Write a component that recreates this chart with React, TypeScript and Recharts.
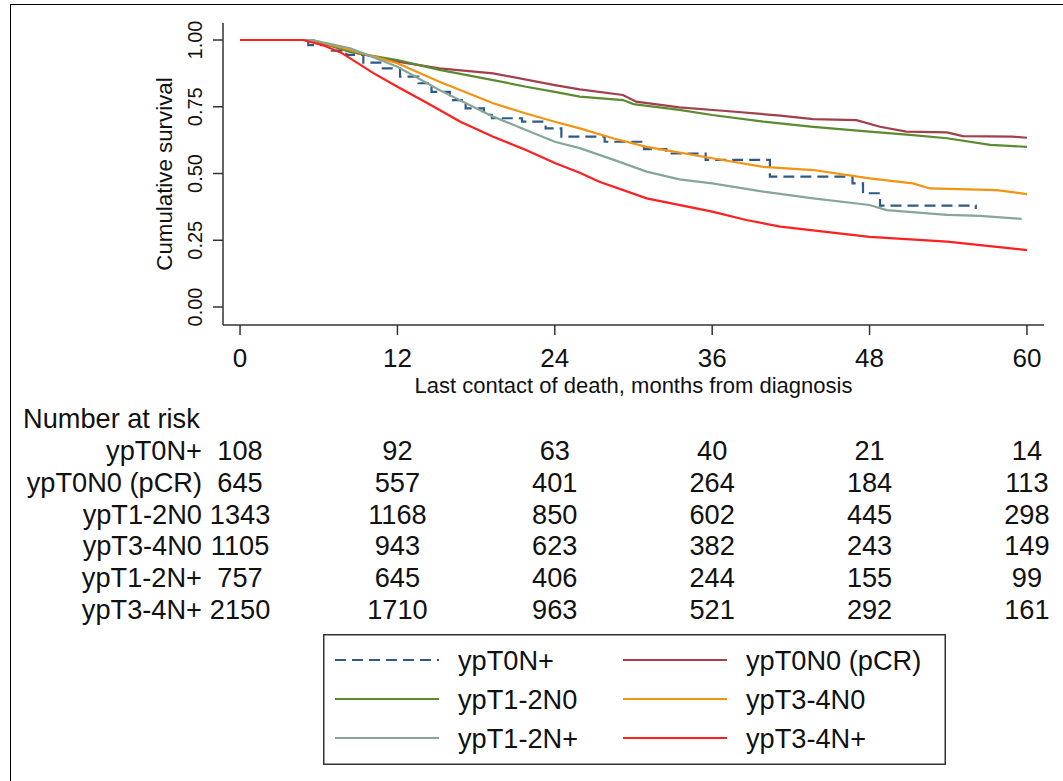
import React from 'react';
import { LineChart, Line, XAxis, YAxis, Legend } from 'recharts';

const FONT = '"Liberation Sans", Arial, sans-serif';

const monthTicks = [0, 12, 24, 36, 48, 60];
const survTicks = [0, 0.25, 0.5, 0.75, 1];

// ypT0N+ (few patients, visible steps)
const t0npMonths = [0, 5.2, 7, 8.1, 9.4, 10.8, 12.2, 13.6, 14.6, 16, 17.2, 18.6, 19.2, 21.5, 23.3, 24.5, 27.8, 30.8, 32.5, 35.5, 40.4, 46.7, 47.5, 48.8, 56.1];
const t0npSurv = [1, 0.981, 0.96, 0.944, 0.915, 0.894, 0.863, 0.838, 0.806, 0.775, 0.744, 0.72, 0.707, 0.694, 0.669, 0.638, 0.619, 0.591, 0.575, 0.551, 0.488, 0.463, 0.426, 0.38, 0.367];

// ypT0N0 (pCR)
const pcrMonths = [0, 5.5, 8.4, 12, 15.2, 19.3, 24, 25.9, 29.2, 30.2, 33.5, 36.8, 41.2, 43.7, 47, 48.8, 50.8, 53.9, 55.1, 58.9, 60];
const pcrSurv = [1, 1, 0.956, 0.919, 0.894, 0.875, 0.831, 0.815, 0.794, 0.769, 0.748, 0.735, 0.717, 0.704, 0.7, 0.675, 0.657, 0.654, 0.64, 0.638, 0.634];

// ypT1-2N0
const t12n0Months = [0, 5.5, 8.4, 12, 15.2, 19.3, 21.8, 24, 25.9, 29.2, 30, 33.5, 36, 39.9, 43.7, 48, 51.3, 53.9, 57.2, 60];
const t12n0Surv = [1, 1, 0.955, 0.925, 0.888, 0.85, 0.825, 0.806, 0.788, 0.775, 0.76, 0.738, 0.719, 0.694, 0.675, 0.657, 0.644, 0.632, 0.607, 0.6];

// ypT3-4N0
const t34n0Months = [0, 5.5, 8.4, 12, 15.2, 19.3, 21.8, 24, 25.9, 28.5, 31, 36, 39.9, 43.7, 48, 51.3, 52.6, 57.7, 60];
const t34n0Surv = [1, 1, 0.963, 0.913, 0.844, 0.763, 0.725, 0.694, 0.669, 0.631, 0.6, 0.557, 0.525, 0.513, 0.482, 0.463, 0.444, 0.438, 0.423];

// ypT1-2N+
const t12npMonths = [0, 5.5, 8.4, 12, 15.2, 19.3, 21.8, 24, 25.9, 28.5, 31, 33.5, 36, 39.9, 43.7, 48, 49.3, 53.9, 56.4, 59.6];
const t12npSurv = [1, 1, 0.969, 0.9, 0.813, 0.713, 0.663, 0.619, 0.595, 0.551, 0.507, 0.478, 0.463, 0.432, 0.407, 0.382, 0.363, 0.345, 0.341, 0.33];

// ypT3-4N+
const t34npMonths = [0, 4.8, 6.3, 7.8, 10.2, 12, 14.3, 16.8, 19.3, 21.8, 24, 25.9, 27.4, 31, 36, 38.6, 41.2, 48, 53.9, 60];
const t34npSurv = [1, 1, 0.981, 0.95, 0.875, 0.825, 0.763, 0.694, 0.638, 0.588, 0.539, 0.503, 0.469, 0.407, 0.357, 0.326, 0.301, 0.263, 0.245, 0.213];

// number at risk at 0, 12, 24, 36, 48, 60 months
const riskT0Np = [108, 92, 63, 40, 21, 14];
const riskPcr = [645, 557, 401, 264, 184, 113];
const riskT12N0 = [1343, 1168, 850, 602, 445, 298];
const riskT34N0 = [1105, 943, 623, 382, 243, 149];
const riskT12Np = [757, 645, 406, 244, 155, 99];
const riskT34Np = [2150, 1710, 963, 521, 292, 161];

const toPoints = (months: number[], surv: number[]) =>
  months.map((m, i) => ({ m, s: surv[i] }));

const series = [
  { name: 'ypT0N+', data: toPoints(t0npMonths, t0npSurv), risk: riskT0Np, color: '#2f5a88', dash: '11 6', step: true },
  { name: 'ypT0N0 (pCR)', data: toPoints(pcrMonths, pcrSurv), risk: riskPcr, color: '#a13f4b', dash: undefined, step: false },
  { name: 'ypT1-2N0', data: toPoints(t12n0Months, t12n0Surv), risk: riskT12N0, color: '#5b8b2f', dash: undefined, step: false },
  { name: 'ypT3-4N0', data: toPoints(t34n0Months, t34n0Surv), risk: riskT34N0, color: '#f29412', dash: undefined, step: false },
  { name: 'ypT1-2N+', data: toPoints(t12npMonths, t12npSurv), risk: riskT12Np, color: '#86a697', dash: undefined, step: false },
  { name: 'ypT3-4N+', data: toPoints(t34npMonths, t34npSurv), risk: riskT34Np, color: '#ff1f1f', dash: undefined, step: false },
];

const MAIN_H = 76;
const NAR_H = 34;
const ROW_H = 31.7;
const TICK_SIZE = 10;
const TABLE_FS = 27.2;
const AXIS_STROKE = { stroke: '#333', strokeWidth: 1.5 };

// month label plus the at-risk column drawn under it
const XTick = ({ x, y, payload }: any) => {
  const col = monthTicks.indexOf(payload.value);
  const rowsTop = y - TICK_SIZE - 2 + MAIN_H + NAR_H;
  return (
    <g>
      <text x={x} y={y + 21} textAnchor="middle" dominantBaseline="central" fontSize={26} fill="#111" fontFamily={FONT}>
        {payload.value}
      </text>
      {series.map((s, r) => (
        <text key={s.name} x={x} y={rowsTop + ROW_H * (r + 0.5)} textAnchor="middle" dominantBaseline="central" fontSize={TABLE_FS} fill="#111" fontFamily={FONT}>
          {s.risk[col]}
        </text>
      ))}
    </g>
  );
};

const YTick = ({ x, y, payload }: any) => {
  const cx = x - 16;
  return (
    <text x={cx} y={y} transform={`rotate(-90 ${cx} ${y})`} textAnchor="middle" dominantBaseline="central" fontSize={20} fill="#111" fontFamily={FONT}>
      {payload.value.toFixed(2)}
    </text>
  );
};

const seriesIndex = (name: string) => series.findIndex((d) => d.name === name);

const LegendBox = ({ payload }: any) => {
  const items = [...(payload || [])].sort((a: any, b: any) => seriesIndex(a.value) - seriesIndex(b.value));
  return (
    <svg width={623} height={131} style={{ display: 'block' }}>
      <rect x={0.75} y={0.75} width={621.5} height={129.5} fill="#fff" stroke="#333" strokeWidth={1.5} />
      {items.map((e: any, i: number) => {
        const s = series[seriesIndex(e.value)];
        const lx = i % 2 === 0 ? 12 : 300;
        const cy = 26 + Math.floor(i / 2) * 39;
        return (
          <g key={e.value}>
            <line x1={lx} x2={lx + 104} y1={cy} y2={cy} stroke={e.color} strokeWidth={2.2} strokeDasharray={s?.dash} />
            <text x={lx + 123} y={cy} dominantBaseline="central" fontSize={TABLE_FS} fill="#111" fontFamily={FONT}>
              {e.value}
            </text>
          </g>
        );
      })}
    </svg>
  );
};

export default function App() {
  return (
    <div style={{ position: 'absolute', left: 0, top: 0, width: 1063, height: 781, background: '#fff', overflow: 'hidden', fontFamily: FONT }}>
      <div style={{ position: 'absolute', left: 10, top: 4, right: 0, bottom: 0, borderLeft: '1.5px solid #000', borderTop: '1.5px solid #000' }} />
      <div style={{ position: 'absolute', left: 0, top: 0 }}>
        <LineChart width={1063} height={781} margin={{ top: 23, right: 19, left: 163, bottom: 456 - MAIN_H - NAR_H - 6 * ROW_H }}>
          <XAxis
            xAxisId="main"
            type="number"
            dataKey="m"
            domain={[-1.3, 61.3]}
            ticks={monthTicks}
            height={MAIN_H}
            tickSize={TICK_SIZE}
            tickMargin={2}
            axisLine={AXIS_STROKE}
            tickLine={AXIS_STROKE}
            tick={<XTick />}
            label={(p: any) => (
              <text x={p.viewBox.x + p.viewBox.width / 2} y={p.viewBox.y + 60} textAnchor="middle" dominantBaseline="central" fontSize={22} fill="#111" fontFamily={FONT}>
                Last contact of death, months from diagnosis
              </text>
            )}
          />
          <XAxis
            xAxisId="nar"
            type="number"
            domain={[-1.3, 61.3]}
            height={NAR_H}
            axisLine={false}
            tickLine={false}
            tick={false}
            label={(p: any) => (
              <text x={23} y={p.viewBox.y + p.viewBox.height / 2} textAnchor="start" dominantBaseline="central" fontSize={TABLE_FS} fill="#111" fontFamily={FONT}>
                Number at risk
              </text>
            )}
          />
          {series.map((s, r) => (
            <XAxis
              key={s.name}
              xAxisId={`risk${r}`}
              type="number"
              domain={[-1.3, 61.3]}
              height={ROW_H}
              axisLine={false}
              tickLine={false}
              tick={false}
              label={(p: any) => (
                <text x={202} y={p.viewBox.y + p.viewBox.height / 2} textAnchor="end" dominantBaseline="central" fontSize={TABLE_FS} fill="#111" fontFamily={FONT}>
                  {s.name}
                </text>
              )}
            />
          ))}
          <YAxis
            type="number"
            domain={[-0.0674, 1.0637]}
            ticks={survTicks}
            width={60}
            tickSize={TICK_SIZE}
            axisLine={AXIS_STROKE}
            tickLine={AXIS_STROKE}
            tick={<YTick />}
            label={(p: any) => {
              const cx = p.viewBox.x + 1;
              const cy = p.viewBox.y + p.viewBox.height / 2;
              return (
                <text x={cx} y={cy} transform={`rotate(-90 ${cx} ${cy})`} textAnchor="middle" dominantBaseline="central" fontSize={22.3} fill="#111" fontFamily={FONT}>
                  Cumulative survival
                </text>
              );
            }}
          />
          {series.map((s) => (
            <Line
              key={s.name}
              xAxisId="main"
              data={s.data}
              dataKey="s"
              name={s.name}
              type={s.step ? 'stepAfter' : 'linear'}
              stroke={s.color}
              strokeWidth={2.2}
              strokeDasharray={s.dash}
              dot={false}
              activeDot={false}
              isAnimationActive={false}
            />
          ))}
          <Legend
            layout="horizontal"
            verticalAlign="middle"
            align="center"
            wrapperStyle={{ left: 323, top: 634, width: 623, height: 131 }}
            content={<LegendBox />}
          />
        </LineChart>
      </div>
    </div>
  );
}
